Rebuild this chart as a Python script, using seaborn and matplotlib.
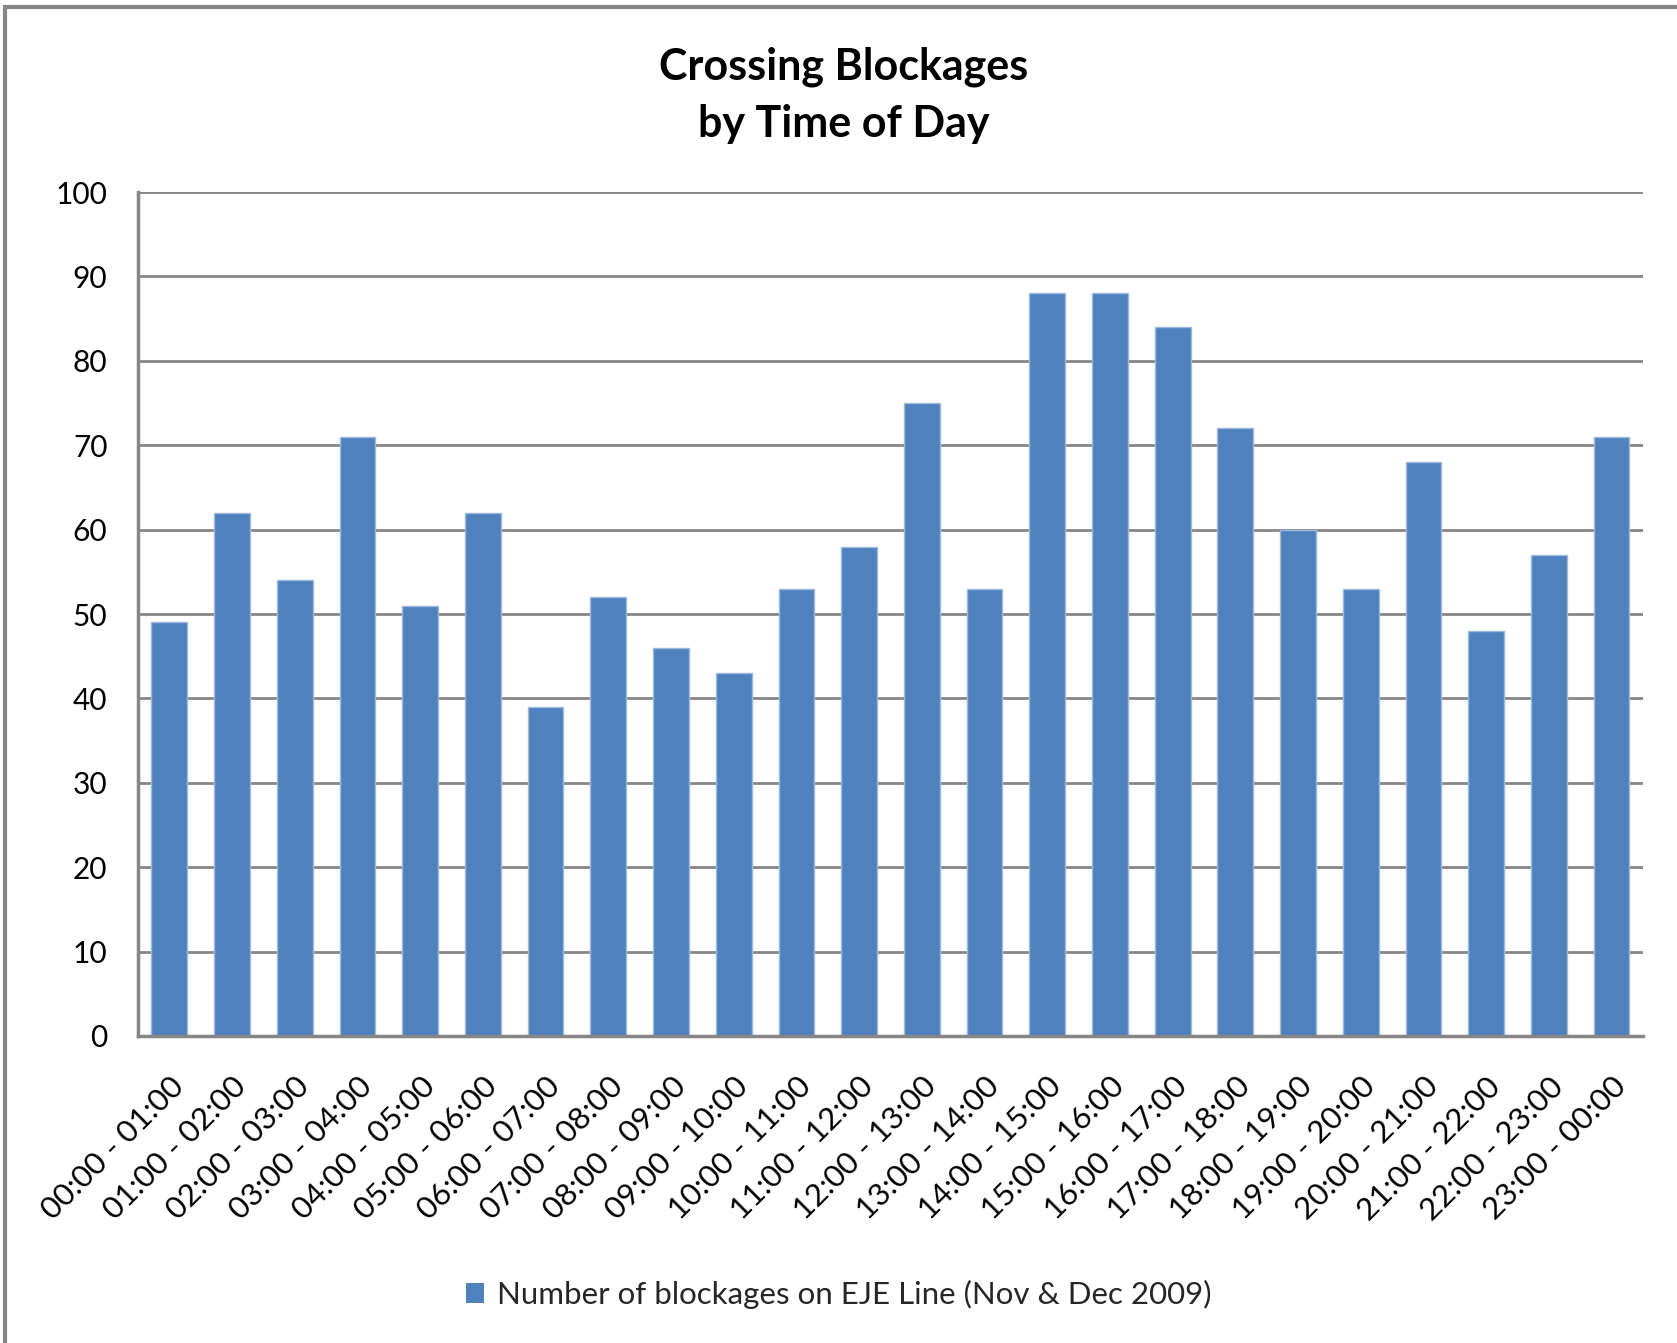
import matplotlib
matplotlib.use("Agg")
import matplotlib.pyplot as plt
import seaborn as sns
import pandas as pd
from matplotlib.patches import Rectangle, Patch

categories = ["00:00 - 01:00", "01:00 - 02:00", "02:00 - 03:00", "03:00 - 04:00",
              "04:00 - 05:00", "05:00 - 06:00", "06:00 - 07:00", "07:00 - 08:00",
              "08:00 - 09:00", "09:00 - 10:00", "10:00 - 11:00", "11:00 - 12:00",
              "12:00 - 13:00", "13:00 - 14:00", "14:00 - 15:00", "15:00 - 16:00",
              "16:00 - 17:00", "17:00 - 18:00", "18:00 - 19:00", "19:00 - 20:00",
              "20:00 - 21:00", "21:00 - 22:00", "22:00 - 23:00", "23:00 - 00:00"]
values = [49, 62, 54, 71, 51, 62, 39, 52, 46, 43, 53, 58,
          75, 53, 88, 88, 84, 72, 60, 53, 68, 48, 57, 71]
yticks = [0, 10, 20, 30, 40, 50, 60, 70, 80, 90, 100]
series_name = "Number of blockages on EJE Line (Nov & Dec 2009)"
title = "Crossing Blockages\nby Time of Day"

sns.set_theme(style="white")
plt.rcParams['font.family'] = ['Lato', 'DejaVu Sans']

df = pd.DataFrame({"slot": categories, "count": values})

fig = plt.figure(figsize=(16.77, 13.43), dpi=100)
ax = fig.add_axes([0.0823, 0.2286, 0.8974, 0.6284])

bar_color = "#4F81BD"
sns.barplot(data=df, x="slot", y="count", color=bar_color, saturation=1,
            width=0.57, ax=ax, edgecolor="#9DB9DC", linewidth=1.0)

ax.set_ylim(0, 100)
ax.set_xlim(-0.5, len(categories) - 0.5)
ax.set_yticks(yticks)
ax.set_yticklabels([str(t) for t in yticks], fontsize=21.5, color="black")
ax.yaxis.grid(True, color="#868686", linewidth=2)
ax.set_axisbelow(True)
ax.set_xlabel("")
ax.set_ylabel("")
ax.set_xticks(range(len(categories)))
ax.set_xticklabels(categories, rotation=45, ha="right", rotation_mode="anchor",
                   fontsize=22.5, color="black")
ax.tick_params(axis="x", length=0, pad=26)
ax.tick_params(axis="y", length=0, pad=22)
for s in ["top", "right"]:
    ax.spines[s].set_visible(False)
for s in ["left", "bottom"]:
    ax.spines[s].set_color("#868686")
    ax.spines[s].set_linewidth(2.5)

fig.text(0.503, 0.929, title, ha="center", va="center", fontsize=31,
         fontweight="bold", linespacing=1.5, color="black")

handle = Patch(facecolor=bar_color, edgecolor="none")
fig.legend([handle], [series_name], loc="center", bbox_to_anchor=(0.5, 0.036),
           frameon=False, fontsize=22.5, handlelength=0.6, handleheight=0.6,
           handletextpad=0.4)

# outer chart border (cropped on right/bottom)
fig.patches.append(Rectangle((5 / 1677, -0.05), 1.2, 1 - 7 / 1343 + 0.05,
                             transform=fig.transFigure, fill=False,
                             edgecolor="#868686", linewidth=3))

fig.savefig("out.png", dpi=100)
